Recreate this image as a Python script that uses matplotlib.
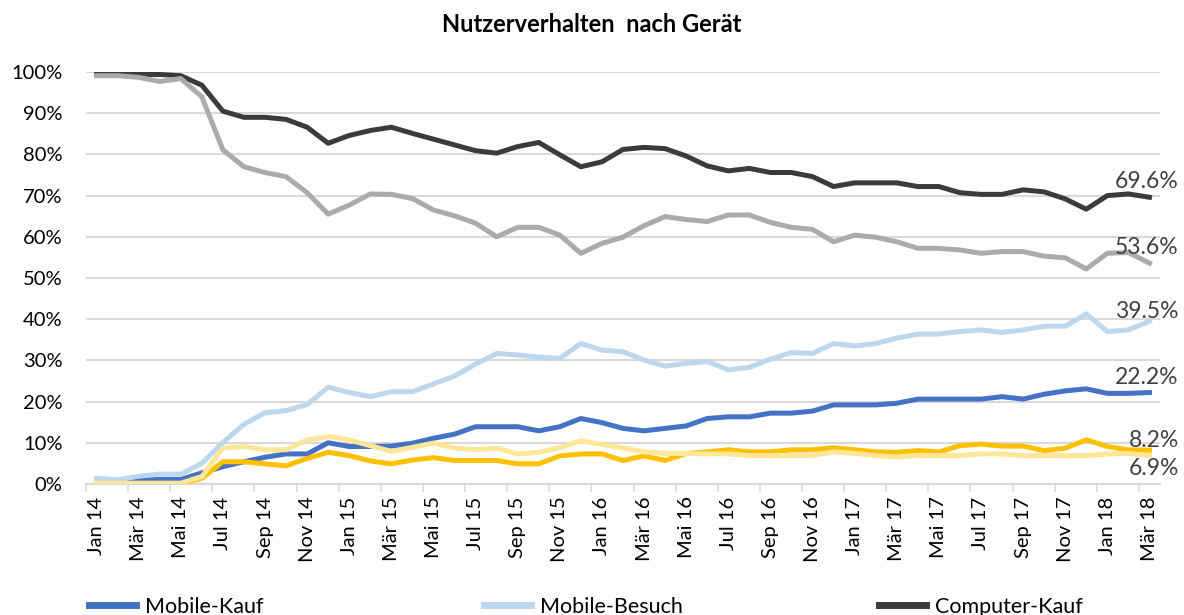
import matplotlib
matplotlib.use("Agg")
import matplotlib.pyplot as plt
from matplotlib.lines import Line2D

plt.rcParams['font.family'] = ['Lato', 'DejaVu Sans']

# Monate Jan 14 .. Mär 18
monate_kurz = ['Jan', 'Feb', 'Mär', 'Apr', 'Mai', 'Jun', 'Jul', 'Aug', 'Sep', 'Okt', 'Nov', 'Dez']
monate = [f"{monate_kurz[m % 12]} {14 + m // 12}" for m in range(51)]

# Werte in Prozent
mobile_kauf = [0.2, 0.3, 1.0, 1.1, 1.1, 2.7, 4.2, 5.4, 6.5, 7.3, 7.3, 10.0, 9.1, 9.1, 9.2,
               9.9, 11.1, 12.1, 13.9, 13.9, 13.9, 12.9, 13.9, 15.9, 14.9, 13.5, 12.9, 13.5, 14.1,
               15.9, 16.3, 16.3, 17.2, 17.2, 17.7, 19.2, 19.2, 19.2, 19.6, 20.6, 20.6, 20.6, 20.6,
               21.2, 20.6, 21.8, 22.6, 23.1, 22.0, 22.0, 22.2]
mobile_besuch = [1.4, 1.0, 1.9, 2.4, 2.4, 5.0, 10.1, 14.5, 17.3, 17.8, 19.3, 23.5, 22.2, 21.2, 22.4,
                 22.4, 24.3, 26.2, 29.1, 31.7, 31.3, 30.8, 30.5, 34.1, 32.5, 32.1, 30.1, 28.6, 29.3,
                 29.7, 27.7, 28.3, 30.3, 31.9, 31.7, 34.1, 33.5, 34.1, 35.4, 36.4, 36.4, 37.0, 37.4,
                 36.8, 37.4, 38.3, 38.3, 41.3, 37.0, 37.4, 39.5]
computer_kauf = [99.6, 99.5, 99.4, 99.4, 99.1, 96.8, 90.5, 89.0, 89.0, 88.5, 86.6, 82.7, 84.6, 85.8, 86.6,
                 85.1, 83.7, 82.3, 80.9, 80.3, 81.9, 82.9, 79.9, 77.0, 78.2, 81.2, 81.7, 81.4, 79.6,
                 77.2, 76.0, 76.6, 75.6, 75.6, 74.6, 72.2, 73.1, 73.1, 73.1, 72.2, 72.2, 70.7, 70.3,
                 70.3, 71.4, 70.9, 69.2, 66.7, 70.0, 70.4, 69.6]
computer_besuch = [99.1, 99.1, 98.7, 97.7, 98.4, 94.0, 81.1, 77.0, 75.6, 74.6, 70.7, 65.5, 67.7, 70.4, 70.3,
                   69.3, 66.5, 65.1, 63.3, 60.0, 62.3, 62.3, 60.4, 56.0, 58.4, 59.9, 62.7, 64.9, 64.2,
                   63.7, 65.3, 65.3, 63.5, 62.3, 61.8, 58.8, 60.4, 59.9, 58.8, 57.2, 57.2, 56.8, 56.0,
                   56.4, 56.4, 55.3, 54.9, 52.2, 56.0, 56.2, 53.6]
tablet_kauf = [0.0, 0.0, 0.0, 0.0, 0.0, 1.4, 5.4, 5.4, 4.9, 4.4, 6.2, 7.7, 6.9, 5.6, 4.9,
               5.8, 6.4, 5.7, 5.7, 5.7, 4.9, 4.9, 6.8, 7.3, 7.3, 5.7, 6.8, 5.7, 7.4,
               7.8, 8.3, 7.8, 7.8, 8.3, 8.3, 8.8, 8.3, 7.8, 7.7, 8.1, 7.8, 9.3, 9.7,
               9.2, 9.2, 8.1, 8.7, 10.7, 9.1, 8.3, 8.2]
tablet_besuch = [0.2, 0.2, 0.2, 0.2, 0.2, 1.8, 8.7, 9.1, 8.3, 8.3, 10.7, 11.5, 10.7, 9.3, 7.9,
                 8.9, 9.9, 8.7, 8.3, 8.7, 7.3, 7.7, 8.8, 10.5, 9.6, 8.7, 7.8, 7.4, 7.4,
                 7.3, 7.3, 6.9, 6.9, 6.9, 6.9, 7.8, 7.4, 6.9, 6.5, 6.9, 6.9, 6.9, 7.3,
                 7.3, 6.9, 6.9, 6.9, 6.9, 7.3, 7.4, 6.9]

serien = [
    ('Mobile-Kauf', mobile_kauf, '#4472C4', 11),
    ('Mobile-Besuch', mobile_besuch, '#BDD7EE', 7),
    ('Computer-Kauf', computer_kauf, '#3B3B3B', 11),
    ('Computer-Besuch', computer_besuch, '#AEAAAA', 11.5),
    ('Tablet-Kauf', tablet_kauf, '#FFC000', 7),
    ('Tablet-Besuch', tablet_besuch, '#FFE699', -9),
]
# nur die erste Legendenzeile ist im Bild sichtbar
legende = ['Mobile-Kauf', 'Mobile-Besuch', 'Computer-Kauf']

fig = plt.figure(figsize=(11.84, 6.15), dpi=100)
ax = fig.add_axes([86 / 1184, 131 / 615, 1074 / 1184, 412 / 615])

x = list(range(len(monate)))
handles = {}
for name, werte, farbe, dy in serien:
    y = [v / 100 for v in werte]
    line, = ax.plot(x, y, color=farbe, lw=3.6, solid_joinstyle='round', zorder=3)
    handles[name] = line
    ax.annotate(f"{werte[-1]:.1f}%", xy=(x[-1], y[-1]), xytext=(21, dy),
                textcoords='offset points', ha='right', va='center',
                fontsize=16.5, color='#404040', zorder=4)

ax.set_xlim(-0.5, len(monate) - 0.5)
ax.set_ylim(0, 1.0)
ax.set_yticks([i / 10 for i in range(11)])
ax.set_yticklabels([f"{i * 10}%" for i in range(11)], fontsize=14.5)
ax.yaxis.grid(True, color='#D9D9D9', lw=1.5, zorder=0)
ax.tick_params(axis='y', length=0, pad=17)

ax.set_xticks(x[::2])
ax.set_xticklabels(monate[::2], rotation=90, fontsize=14.5)
ax.set_xticks([i - 0.5 for i in range(0, len(monate), 2)], minor=True)
ax.tick_params(axis='x', which='major', length=0, pad=9)
ax.tick_params(axis='x', which='minor', length=6, width=1.2, color='#D9D9D9')

for s in ['top', 'right', 'left']:
    ax.spines[s].set_visible(False)
ax.spines['bottom'].set_color('#D9D9D9')
ax.spines['bottom'].set_linewidth(1.5)
ax.set_axisbelow(True)

fig.text(0.5, 1 - 24 / 615, 'Nutzerverhalten  nach Gerät', ha='center', va='center',
         fontsize=17, fontweight='bold')

for k, name in enumerate(legende):
    h = [Line2D([], [], color=handles[name].get_color(), lw=5)]
    fig.legend(h, [name], loc='upper left',
               bbox_to_anchor=((80 + k * 395) / 1184, 1 - 588 / 615),
               frameon=False, fontsize=15.5, handlelength=2.2, handletextpad=0.4,
               borderaxespad=0)

fig.savefig('out.png', dpi=100)
